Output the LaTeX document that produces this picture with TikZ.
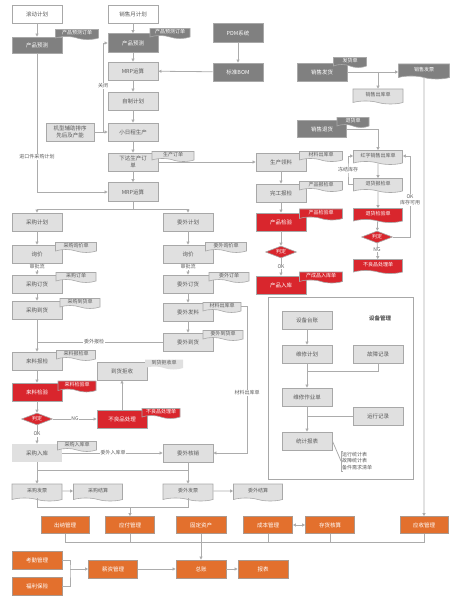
\documentclass[tikz,border=0pt]{standalone}
\usepackage{fontspec}
\newfontfamily\cjk{Noto Sans CJK SC}
\usetikzlibrary{arrows.meta,shapes.geometric,shapes.symbols}
\definecolor{linegray}{RGB}{172,172,172}
\definecolor{edgegray}{RGB}{168,168,168}
\definecolor{boxgray}{RGB}{224,224,224}
\definecolor{panelgray}{RGB}{128,128,128}
\definecolor{alarmred}{RGB}{217,38,45}
\definecolor{costorange}{RGB}{227,112,45}
\definecolor{orangeedge}{RGB}{172,152,140}
\definecolor{textgray}{RGB}{90,90,90}
\tikzset{
  basebox/.style={rectangle,draw=edgegray,line width=0.8pt,minimum width=50pt,minimum height=18pt,
    inner sep=1pt,align=center,font=\cjk\fontsize{5.5}{6.5}\selectfont},
  lbox/.style={basebox,fill=boxgray,text=textgray},
  dbox/.style={basebox,fill=panelgray,text=white},
  rbox/.style={basebox,fill=alarmred,text=white},
  obox/.style={basebox,fill=costorange,text=white,draw=orangeedge},
  wbox/.style={basebox,fill=white,text=textgray},
  docbox/.style={tape,tape bend top=none,tape bend bottom=out and in,tape bend height=3pt,
    draw=edgegray,line width=0.6pt,minimum width=40pt,minimum height=10pt,inner sep=0.5pt,
    font=\cjk\fontsize{5}{6}\selectfont},
  ldoc/.style={docbox,fill=boxgray,text=textgray},
  ddoc/.style={docbox,fill=panelgray,text=white},
  rdoc/.style={docbox,fill=alarmred,text=white},
  judge/.style={diamond,aspect=2.6,fill=alarmred,draw=edgegray,line width=0.6pt,text=white,
    minimum width=31pt,minimum height=12pt,inner sep=0pt,font=\cjk\fontsize{5}{6}\selectfont},
  flowline/.style={draw=linegray,line width=0.8pt},
  flowarrow/.style={flowline,-{Triangle[length=3pt,width=3pt]}},
  flowboth/.style={flowline,{Triangle[length=3pt,width=3pt]}-{Triangle[length=3pt,width=3pt]}},
  lab/.style={fill=white,inner sep=0.6pt,text=textgray,align=center,font=\cjk\fontsize{5}{6}\selectfont},
}
\begin{document}
\begin{tikzpicture}[x=1pt,y=-1pt]
  \useasboundingbox (0,0) rectangle (458,612);
  % planning
  \node[wbox] (roll) at (37,14) {滚动计划};
  \node[wbox] (mplan) at (133,14) {销售月计划};
  \node[dbox,minimum height=16pt] (fcstA) at (37,45) {产品预测};
  \node[dbox,minimum height=19pt] (fcstB) at (133,43) {产品预测};
  \node[lbox] (mrpA) at (133,71) {MRP运算};
  \node[dbox,minimum height=19pt] (pdm) at (238,33) {PDM系统};
  \node[dbox] (bom) at (238,72) {标准BOM};
  \node[lbox] (self) at (133,101) {自制计划};
  \node[lbox,minimum width=48pt] (aux) at (70,132) {机型辅助排序\\先后及产能};
  \node[lbox] (sched) at (133,132) {小日程生产};
  \node[lbox] (issue) at (133,162) {下达生产订\\单};
  \node[lbox,minimum height=19pt] (mrpB) at (133,192) {MRP运算};
  \node[ddoc,minimum width=43pt] (fcstAdoc) at (77,33) {产品预测订单};
  \node[ddoc] (fcstBdoc) at (170,32) {产品预测订单};
  \node[ldoc,minimum width=42pt] (issuedoc) at (173,155) {生产订单};
  % sales
  \node[dbox] (ship) at (322,72) {销售发货};
  \node[ddoc,minimum width=33pt] (shipdoc) at (350,61) {发货单};
  \node[ddoc,minimum width=51pt,minimum height=15pt] (sinv) at (424,70) {销售发票};
  \node[ldoc,minimum width=50pt,minimum height=15pt] (sout) at (378,95) {销售出库单};
  \node[dbox,minimum width=49pt,minimum height=17pt] (ret) at (322,129) {销售退货};
  \node[ddoc,minimum width=32pt] (retdoc) at (353,121) {退货单};
  \node[ldoc,minimum width=49pt,minimum height=14pt] (redout) at (378,156) {红字销售出库单};
  \node[ldoc,minimum width=49pt,minimum height=14pt] (retinsp) at (378,184) {退货报检单};
  \node[rdoc,minimum width=49pt,minimum height=14pt] (retqc) at (378,214) {退货检验单};
  \node[judge] (judgeC) at (377,237) {判定};
  \node[rdoc,minimum width=49pt,minimum height=14pt] (retng) at (378,265) {不良品处理单};
  % production
  \node[lbox] (pick) at (281,162) {生产领料};
  \node[lbox] (fin) at (281,193) {完工报检};
  \node[rbox] (pqc) at (281,222) {产品检验};
  \node[judge] (judgeB) at (281,252) {判定};
  \node[rbox] (pstore) at (281,285) {产品入库};
  \node[ldoc,minimum width=43pt] (pickdoc) at (321,155) {材料出库单};
  \node[ldoc,minimum width=43pt] (findoc) at (321,185) {产品报检单};
  \node[rdoc,minimum width=43pt,minimum height=11pt] (pqcdoc) at (321,213) {产品检验单};
  \node[rdoc,minimum width=43pt,minimum height=11pt] (pstoredoc) at (321,276) {产成品入库单};
  % purchase
  \node[lbox] (pp) at (37,222) {采购计划};
  \node[lbox] (pinq) at (37,254) {询价};
  \node[lbox] (pord) at (37,284) {采购订货};
  \node[lbox] (parr) at (37,310) {采购到货};
  \node[lbox] (insp) at (37,361) {来料报检};
  \node[rbox] (qc) at (37,392) {来料检验};
  \node[judge] (judgeA) at (37,419) {判定};
  \node[rbox] (ngA) at (122,419) {不良品处理};
  \node[lbox] (rej) at (122,371) {到货拒收};
  \node[lbox,draw=none] (pin) at (37,453) {采购入库};
  \node[ldoc,minimum width=41pt] (pinqdoc) at (76,246) {采购询价单};
  \node[ldoc] (porddoc) at (76,276) {采购订单};
  \node[ldoc] (parrdoc) at (80,302) {采购到货单};
  \node[ldoc,minimum width=39pt] (inspdoc) at (76,354) {来料报检单};
  \node[rdoc,minimum width=38pt,minimum height=11pt] (qcdoc) at (77,385) {来料检验单};
  \node[rdoc,minimum width=38pt] (ngAdoc) at (161,412) {不良品处理单};
  \node[ldoc,minimum width=38pt,draw=none] (rejdoc) at (164,363) {到货拒收单};
  \node[ldoc,minimum width=39pt] (pindoc) at (77,445) {采购入库单};
  % outsourcing
  \node[lbox] (op) at (188,222) {委外计划};
  \node[lbox] (oinq) at (188,254) {询价};
  \node[lbox] (oord) at (188,284) {委外订货};
  \node[lbox] (oiss) at (188,312) {委外发料};
  \node[lbox] (oarr) at (188,342) {委外到货};
  \node[lbox] (ocheck) at (188,453) {委外核销};
  \node[ldoc,minimum width=41pt] (oinqdoc) at (226,246) {委外询价单};
  \node[ldoc] (oorddoc) at (229,276) {委外订单};
  \node[ldoc,minimum width=38pt] (oissdoc) at (222,306) {材料出库单};
  \node[ldoc] (oarrdoc) at (223,334) {委外到货单};
  % invoices
  \node[ldoc,minimum width=50pt,minimum height=17pt] (pinv) at (37,491) {采购发票};
  \node[ldoc,minimum width=49pt,minimum height=17pt] (pset) at (98,491) {采购结算};
  \node[ldoc,minimum width=50pt,minimum height=17pt] (oinv) at (188,491) {委外发票};
  \node[ldoc,minimum width=49pt,minimum height=17pt] (oset) at (258,491) {委外结算};
  % finance
  \node[obox,minimum width=48pt,minimum height=17pt] (cash) at (65,525) {出纳管理};
  \node[obox,minimum width=49pt,minimum height=17pt] (apay) at (130,525) {应付管理};
  \node[obox,minimum height=17pt] (fixed) at (201,525) {固定资产};
  \node[obox,minimum width=49pt,minimum height=17pt] (cost) at (268,525) {成本管理};
  \node[obox,minimum width=49pt,minimum height=17pt] (stock) at (330,525) {存货核算};
  \node[obox,minimum width=48pt,minimum height=17pt] (ar) at (424,525) {应收管理};
  \node[obox] (att) at (37,560) {考勤管理};
  \node[obox] (wel) at (37,586) {福利保险};
  \node[obox,minimum width=49pt] (salary) at (113,569) {薪资管理};
  \node[obox] (ledger) at (201,569) {总账};
  \node[obox] (report) at (263,569) {报表};
  % equipment
  \draw[draw=edgegray,line width=0.8pt] (268,297) rectangle (413,479);
  \node[font=\cjk\bfseries\fontsize{5.5}{6.5}\selectfont,text=textgray] (devtitle) at (380,318) {设备管理};
  \node[lbox] (dev1) at (307,320) {设备台账};
  \node[lbox] (dev2) at (307,354) {维修计划};
  \node[lbox] (dev3) at (378,354) {故障记录};
  \node[lbox] (dev4) at (307,397) {维修作业单};
  \node[lbox] (dev5) at (378,416) {运行记录};
  \node[lbox] (dev6) at (307,441) {统计报表};
  \node[anchor=west,align=left,inner sep=1pt,text=textgray,font=\cjk\fontsize{5}{6.5}\selectfont] (note) at (341,461) {运行统计表\\故障统计表\\备件需求清单};

  % connectors: planning
  \draw[flowarrow] (roll) -- (fcstA);
  \draw[flowarrow] (mplan) -- (fcstB);
  \draw[flowarrow] (fcstB) -- (mrpA);
  \draw[flowarrow] (pdm) -- (bom);
  \draw[flowarrow] (bom) -- (mrpA);
  \draw[flowarrow] (mrpA) -- (self);
  \draw[flowarrow] (self) -- (sched);
  \draw[flowarrow] (aux) -- (sched);
  \draw[flowarrow] (sched) -- (issue);
  \draw[flowarrow] (issue) -- (mrpB);
  \coordinate (closeA) at (103,132);
  \draw[flowarrow] (closeA) |- (fcstB.west);
  \node[lab] (closelab) at (103,86) {关闭};
  \draw[flowarrow] (fcstA) |- (mrpB.west);
  \node[lab] (implab) at (37,157) {进口件采购计划};
  \draw[flowarrow] (issue.east |- pick.west) -- (pick.west);
  \coordinate (split) at (133,209);
  \draw[flowline] (mrpB) -- (split);
  \draw[flowarrow] (split) -| (pp);
  \draw[flowarrow] (split) -| (op);
  % sales
  \draw[flowarrow] (ship.east) -- (ship.east -| sinv.west);
  \draw[flowarrow] (ship.east -| sout.north) -- (sout.north);
  \draw[flowarrow] (sinv) -- (ar);
  \draw[flowarrow] (ret.east) -| (redout.north);
  \draw[flowarrow] (redout) -- (retinsp);
  \coordinate (frozen) at (348,170);
  \draw[flowarrow] (retinsp.west) -| (frozen) |- (redout.west);
  \node[lab] (frozenlab) at (348,170) {冻结库存};
  \draw[flowarrow] (retinsp) -- (retqc);
  \draw[flowarrow] (retqc) -- (judgeC);
  \draw[flowarrow] (judgeC) -- (retng);
  \node[lab] (nglabC) at (377,250) {NG};
  \coordinate (okturn) at (410,156);
  \draw[flowarrow] (judgeC.east) -| (okturn) -- (redout.east);
  \node[lab] (oklabC) at (410,200) {OK\\库存可用};
  % production
  \draw[flowarrow] (pick) -- (fin);
  \draw[flowarrow] (fin) -- (pqc);
  \draw[flowarrow] (pqc) -- (judgeB);
  \draw[flowarrow] (judgeB) -- (pstore);
  \node[lab] (oklabB) at (281,267) {OK};
  % purchase
  \draw[flowarrow] (pp) -- (pinq);
  \draw[flowarrow] (pinq) -- (pord);
  \draw[flowarrow] (pord) -- (parr);
  \draw[flowarrow] (parr) -- (insp);
  \draw[flowarrow] (insp) -- (qc);
  \draw[flowarrow] (qc) -- (judgeA);
  \draw[flowarrow] (judgeA) -- (ngA);
  \draw[flowarrow] (ngA) -- (rej);
  \draw[flowarrow] (judgeA) -- (pin);
  \draw[flowarrow] (pin) -- (ocheck);
  \node[lab] (nglabA) at (75,419) {NG};
  \node[lab] (oklabA) at (37,434) {OK};
  \node[lab] (pinlab) at (113,453) {委外入库单};
  \node[lab] (checklabA) at (37,267) {审批流};
  % outsourcing
  \draw[flowarrow] (op) -- (oinq);
  \draw[flowarrow] (oinq) -- (oord);
  \draw[flowarrow] (oord) -- (oiss);
  \draw[flowarrow] (oiss) -- (oarr);
  \draw[flowline] (oarr.west) -- (oarr.west -| insp.north);
  \node[lab] (oinsplab) at (94,342) {委外报检};
  \node[lab] (checklabB) at (188,267) {审批流};
  \coordinate (oturn) at (247,453);
  \draw[flowarrow] (oissdoc.east) -| (oturn) -- (ocheck.east);
  \node[lab] (matlab) at (247,393) {材料出库单};
  % invoices
  \coordinate (jP) at (37,470);
  \coordinate (jO) at (188,470);
  \draw[flowarrow] (pin) -- (pinv);
  \draw[flowarrow] (ocheck) -- (oinv);
  \draw[flowline] (jP) -- (jO);
  \draw[flowarrow] (pinv) -- (pset);
  \draw[flowarrow] (oinv) -- (oset);
  \coordinate (jB) at (0,507);
  \draw[flowline] (pinv.south) -- (pinv.south |- jB) -- (oinv.south |- jB) -- (oinv.south);
  \draw[flowarrow] (apay.north |- jB) -- (apay.north);
  % finance
  \draw[flowboth] (cost) -- (stock);
  \coordinate (jY) at (0,542);
  \draw[flowline] (cash.south) -- (cash.south |- jY) -- (ar.south |- jY) -- (ar.south);
  \foreach \n in {apay,cost,stock}
    \draw[flowline] (\n.south) -- (\n.south |- jY);
  \draw[flowarrow] (fixed) -- (ledger);
  \coordinate (jS) at (70,569);
  \draw[flowline] (att.east) -| (jS) |- (wel.east);
  \draw[flowarrow] (jS) -- (salary.west);
  \draw[flowarrow] (salary) -- (ledger);
  \draw[flowarrow] (ledger) -- (report);
  % equipment
  \draw[flowarrow] (dev1) -- (dev2);
  \draw[flowarrow] (dev2) -- (dev4);
  \coordinate (j3) at (307,371);
  \draw[flowline] (dev3.south) |- (j3);
  \draw[flowarrow] (dev4) -- (dev6);
  \draw[flowline] (dev5.west) -- (dev5.west -| dev4.south);
  \draw[flowline] (dev6.east) -- (note.west);
  \draw[flowline,line width=0.6pt] ([xshift=2pt]note.north west) -- (note.north west) -- (note.south west) -- ([xshift=2pt]note.south west);
\end{tikzpicture}
\end{document}
